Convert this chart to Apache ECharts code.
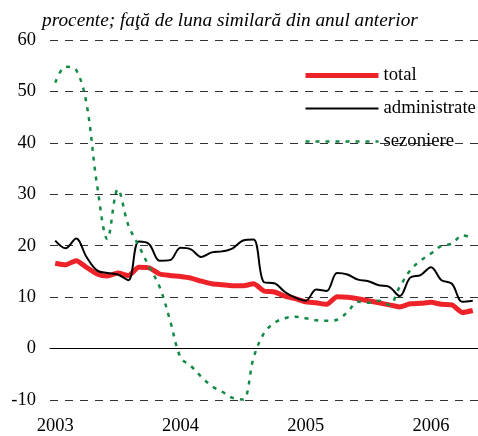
<!DOCTYPE html>
<html>
<head>
<meta charset="utf-8">
<script src="https://cdn.jsdelivr.net/npm/echarts@6/dist/echarts.min.js"></script>
<style>
  html, body { margin: 0; padding: 0; background: #fff; }
  #chart { width: 478px; height: 436px; }
</style>
</head>
<body>
<div id="chart"></div>
<script>
// monthly, Jan 2003 .. May 2006
const years = ['2003', '2004', '2005', '2006']
const months = []
years.forEach(y => {
  for (let m = 1; m <= 12; m++) {
    if (y === '2006' && m > 5) break
    months.push(y + '-' + (m < 10 ? '0' + m : m))
  }
})

const total = [
  16.6, 16.3, 17.1, 15.8, 14.5, 14.1, 14.7, 14.2, 15.8, 15.7, 14.5, 14.2,
  14.0, 13.7, 13.1, 12.6, 12.4, 12.2, 12.2, 12.6, 11.2, 11.0, 10.2, 9.7,
  9.1, 8.9, 8.6, 10.1, 10.0, 9.7, 9.3, 8.9, 8.5, 8.1, 8.7, 8.8,
  9.0, 8.6, 8.5, 7.0, 7.4
]
const administrate = [
  21.0, 19.5, 21.4, 17.8, 15.2, 14.7, 14.4, 13.3, 20.8, 20.3, 17.1, 17.2,
  19.6, 19.3, 17.8, 18.7, 18.9, 19.5, 21.0, 21.2, 12.9, 12.7, 11.0, 9.9,
  9.3, 11.5, 11.2, 14.7, 14.4, 13.4, 13.1, 12.3, 12.0, 10.2, 13.8, 14.3,
  15.8, 13.3, 12.6, 9.1, 9.3
]
const sezoniere = [
  51.7, 54.8, 54.2, 47.6, 31.9, 21.3, 31.0, 24.0, 20.0, 15.9, 12.0, 5.5,
  -1.7, -3.4, -5.5, -7.3, -8.4, -9.6, -9.9, -1.8, 3.0, 5.0, 5.9, 6.2,
  5.9, 5.5, 5.4, 5.6, 7.1, 9.1, 8.9, 9.3, 8.5, 12.0, 15.2, 17.1,
  18.5, 20.0, 20.4, 22.0, 21.5
]

const font = 'Liberation Serif'
const red = '#ee2229'
const green = '#138a45'
const chart = echarts.init(document.getElementById('chart'))

const option = {
  animation: false,
  title: {
    text: 'procente; faţă de luna similară din anul anterior',
    left: 42,
    top: 11,
    padding: 0,
    textStyle: { fontFamily: font, fontStyle: 'italic', fontWeight: 'normal', fontSize: 19.3, color: '#000' }
  },
  legend: {
    orient: 'vertical',
    left: 298,
    top: 61,
    itemWidth: 73,
    itemHeight: 14,
    itemGap: 14,
    itemStyle: { opacity: 0 },
    textStyle: { fontFamily: font, fontSize: 18.7, color: '#000' },
    data: [
      { name: 'total', lineStyle: { width: 5, color: red } },
      { name: 'administrate', lineStyle: { width: 2, color: '#000' } },
      { name: 'sezoniere', lineStyle: { width: 2.5, color: green, type: [4, 6] } }
    ]
  },
  grid: { left: 50, top: 40, width: 435, height: 364 },
  xAxis: [
    {
      type: 'category',
      data: months,
      boundaryGap: true,
      position: 'bottom',
      axisLine: { onZero: true, lineStyle: { color: '#000', width: 1 } },
      axisTick: { interval: 11, length: 6, lineStyle: { color: '#444' } },
      axisLabel: { show: false },
      splitLine: { show: false }
    },
    {
      type: 'category',
      data: months,
      boundaryGap: true,
      position: 'bottom',
      axisLine: { show: false, onZero: false },
      axisTick: { show: false },
      axisLabel: {
        interval: 11,
        margin: 17,
        fontFamily: font,
        fontSize: 18.5,
        color: '#000',
        formatter: v => v.slice(0, 4)
      },
      splitLine: { show: false }
    }
  ],
  yAxis: {
    type: 'value',
    min: -10,
    max: 60,
    interval: 10,
    axisLine: { show: false },
    axisTick: { show: false },
    axisLabel: { margin: 14, fontFamily: font, fontSize: 18.5, color: '#000' },
    splitLine: { lineStyle: { color: '#333', type: [8, 7], width: 1 } }
  },
  series: [
    {
      name: 'total',
      type: 'line',
      data: total,
      symbol: 'none',
      smooth: 0.2,
      lineStyle: { color: red, width: 5 },
      itemStyle: { color: red }
    },
    {
      name: 'administrate',
      type: 'line',
      data: administrate,
      symbol: 'none',
      smooth: 0.35,
      lineStyle: { color: '#000', width: 2 },
      itemStyle: { color: '#000' }
    },
    {
      name: 'sezoniere',
      type: 'line',
      data: sezoniere,
      symbol: 'none',
      smooth: 0.35,
      lineStyle: { color: green, width: 2.5, type: [4, 6] },
      itemStyle: { color: green }
    }
  ]
}

chart.setOption(option)
</script>
</body>
</html>
